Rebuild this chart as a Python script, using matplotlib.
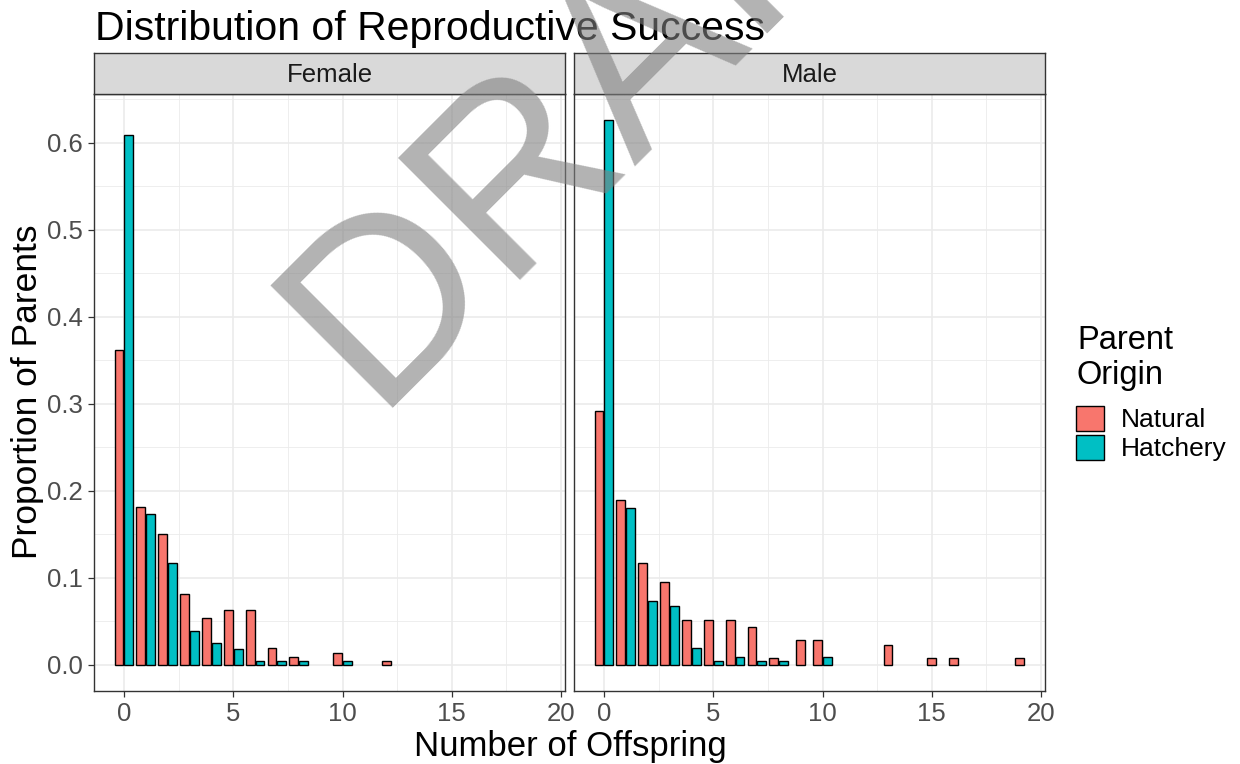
import numpy as np
import matplotlib
matplotlib.use("Agg")
import matplotlib.pyplot as plt
from matplotlib.patches import Patch

plt.rcParams['font.family'] = ['Liberation Sans', 'DejaVu Sans']

# proportion of parents by number of offspring
female_nat_x = [0, 1, 2, 3, 4, 5, 6, 7, 8, 10, 12]
female_nat_y = [0.362, 0.181, 0.150, 0.081, 0.054, 0.063, 0.063, 0.019, 0.009, 0.014, 0.0046]
female_hat_x = [0, 1, 2, 3, 4, 5, 6, 7, 8, 10]
female_hat_y = [0.609, 0.174, 0.117, 0.039, 0.025, 0.018, 0.005, 0.005, 0.005, 0.005]

male_nat_x = [0, 1, 2, 3, 4, 5, 6, 7, 8, 9, 10, 13, 15, 16, 19]
male_nat_y = [0.292, 0.190, 0.117, 0.095, 0.052, 0.052, 0.052, 0.044, 0.008, 0.029, 0.029, 0.023, 0.008, 0.008, 0.008]
male_hat_x = [0, 1, 2, 3, 4, 5, 6, 7, 8, 10]
male_hat_y = [0.626, 0.180, 0.074, 0.0675, 0.020, 0.0046, 0.0096, 0.0046, 0.0046, 0.0096]

panels = ["Female", "Male"]
origins = ["Natural", "Hatchery"]
colors = {"Natural": "#F8766D", "Hatchery": "#00BFC4"}

data = {
    "Female": {"Natural": (female_nat_x, female_nat_y), "Hatchery": (female_hat_x, female_hat_y)},
    "Male": {"Natural": (male_nat_x, male_nat_y), "Hatchery": (male_hat_x, male_hat_y)},
}

W, H = 1240, 764
fig = plt.figure(figsize=(W / 100, H / 100), dpi=100)

def fx(px):
    return px / W

def fy(py):
    return 1 - py / H

panel_left = [94, 574]
panel_w = 471
top, bottom = 94, 691
strip_top = 53
bw = 0.405  # single bar width (dodge2, preserve single)

for i, name in enumerate(panels):
    ax = fig.add_axes([fx(panel_left[i]), fy(bottom), fx(panel_w), (bottom - top) / H])
    nat_x, nat_y = data[name]["Natural"]
    hat_x, hat_y = data[name]["Hatchery"]
    both = set(nat_x) & set(hat_x)
    for org, (xs, ys) in data[name].items():
        off = -0.225 if org == "Natural" else 0.225
        pos = [x + off if x in both else x for x in xs]
        ax.bar(pos, ys, width=bw, color=colors[org], edgecolor="black", linewidth=1.0, zorder=3)
    ax.set_xlim(-1.37, 20.18)
    ax.set_ylim(-0.0299, 0.656)
    ax.set_xticks([0, 5, 10, 15, 20])
    ax.set_xticks([2.5, 7.5, 12.5, 17.5], minor=True)
    ax.set_yticks(np.arange(0, 0.61, 0.1))
    ax.set_yticks(np.arange(0.05, 0.66, 0.1), minor=True)
    ax.grid(which="major", color="#EBEBEB", linewidth=1.2, zorder=0)
    ax.grid(which="minor", color="#EBEBEB", linewidth=0.6, zorder=0)
    ax.set_axisbelow(True)
    for s in ax.spines.values():
        s.set_color("#333333")
        s.set_linewidth(1.0)
    ax.tick_params(which="major", length=4, width=0.9, color="#333333",
                   labelsize=18.5, labelcolor="#4D4D4D", pad=4)
    ax.tick_params(which="minor", length=0)
    if i == 0:
        ax.set_yticklabels(["0.0", "0.1", "0.2", "0.3", "0.4", "0.5", "0.6"])
    else:
        ax.tick_params(axis="y", which="both", left=False, labelleft=False)

    # facet strip
    sax = fig.add_axes([fx(panel_left[i]), fy(top), fx(panel_w), (top - strip_top) / H])
    sax.set_facecolor("#D9D9D9")
    sax.set_xticks([])
    sax.set_yticks([])
    for s in sax.spines.values():
        s.set_color("#333333")
        s.set_linewidth(1.0)
    sax.text(0.5, 0.47, name, ha="center", va="center", fontsize=18.5, color="#1A1A1A",
             transform=sax.transAxes)

fig.text(fx(95), fy(40), "Distribution of Reproductive Success", fontsize=29.5,
         ha="left", va="baseline", color="black")
fig.text(fx(570), fy(756), "Number of Offspring", fontsize=25, ha="center", va="baseline")
fig.text(fx(28), fy(392), "Proportion of Parents", fontsize=25.5, rotation=90,
         ha="center", va="center")

# legend
fig.text(fx(1077), fy(349), "Parent", fontsize=23.5, ha="left", va="baseline")
fig.text(fx(1077), fy(384), "Origin", fontsize=23.5, ha="left", va="baseline")
handles = [Patch(facecolor=colors[o], edgecolor="black", linewidth=1.0) for o in origins]
fig.legend(handles, origins, loc="upper left",
           bbox_to_anchor=(fx(1076), fy(406)), frameon=False, fontsize=19,
           handlelength=1.06, handleheight=1.06, labelspacing=0.1,
           handletextpad=0.65, borderaxespad=0, borderpad=0)

# watermark
fig.text(fx(372), fy(408), "DRAFT", fontsize=181, color="grey", alpha=0.6,
         rotation=45, rotation_mode="anchor", ha="left", va="baseline", zorder=10)

fig.savefig("out.png", dpi=100)
